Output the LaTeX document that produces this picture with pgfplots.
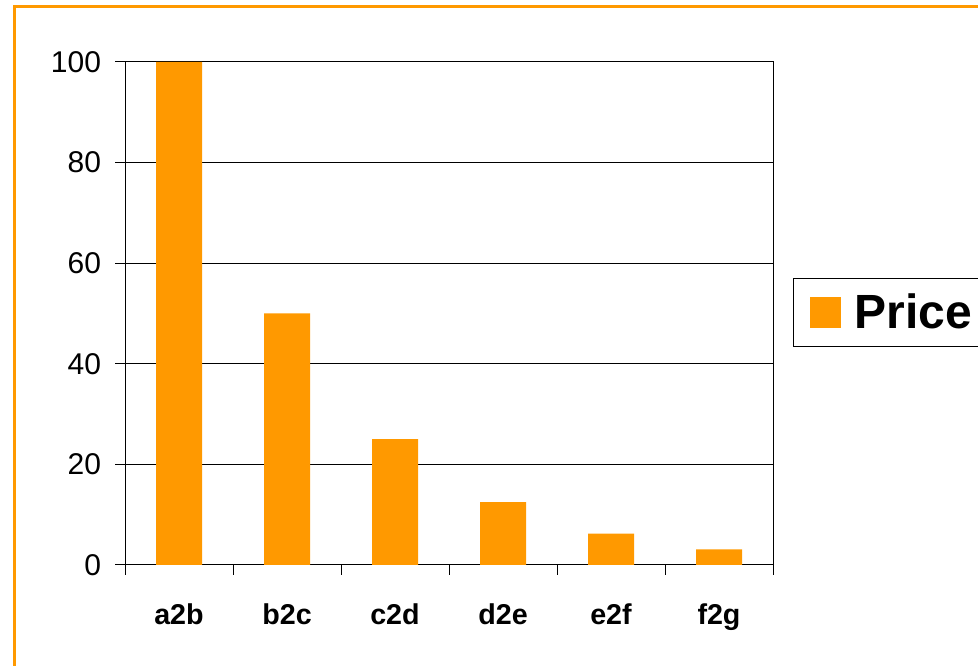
\documentclass[border=0pt]{standalone}
\usepackage{pgfplots}
\pgfplotsset{compat=1.18}
\usepackage{fontspec}
\setmainfont{Liberation Sans}
\definecolor{barorange}{RGB}{255,153,0}
\begin{document}
\begin{tikzpicture}
  % page is 978 x 666 px, 1 px = 0.75pt
  \useasboundingbox (0,0) rectangle (733.5pt,499.5pt);
  \begin{axis}[
    at={(93.75pt,75.75pt)}, anchor=south west,
    width=486pt, height=377.25pt, scale only axis,
    ybar, bar width=34.5pt,
    xmin=-0.5, xmax=5.5, ymin=0, ymax=100,
    xtick={0,...,5},
    xticklabels={a2b,b2c,c2d,d2e,e2f,f2g},
    minor xtick={-0.5,0.5,...,5.5},
    major x tick style={draw=none},
    xtick pos=bottom, ytick pos=left,
    tick align=outside,
    major tick length=7.5pt, minor tick length=7.5pt,
    ytick={0,20,...,100},
    ymajorgrids, grid style={black, line width=0.75pt},
    axis line style={black, line width=0.75pt},
    tick style={black, line width=0.75pt},
    /pgf/number format/assume math mode=true,
    xticklabel style={font=\fontsize{21.5}{24}\selectfont\bfseries, anchor=base, yshift=-37pt},
    yticklabel style={font=\fontsize{22.5}{24}\selectfont, anchor=east, xshift=-7pt},
    legend style={at={(1.031,0.502)}, anchor=west, draw=black, line width=0.75pt,
      font=\fontsize{36}{40}\selectfont\bfseries, inner xsep=4pt, inner ysep=10pt},
    legend image code/.code={
      \path (0pt,0pt);
      \fill[barorange] (8pt,-11.6pt) rectangle (31.25pt,11.6pt);
      \path (40pt,0pt);},
  ]
    \addplot[fill=barorange, draw=none] coordinates {
      (0,100) (1,50) (2,25) (3,12.5) (4,6.25) (5,3.125)
    };
    \addlegendentry{Price}
  \end{axis}
  \draw[barorange, line width=2.25pt] (10.5pt,-20pt) -- (10.5pt,494.25pt) -- (760pt,494.25pt);
\end{tikzpicture}
\end{document}
